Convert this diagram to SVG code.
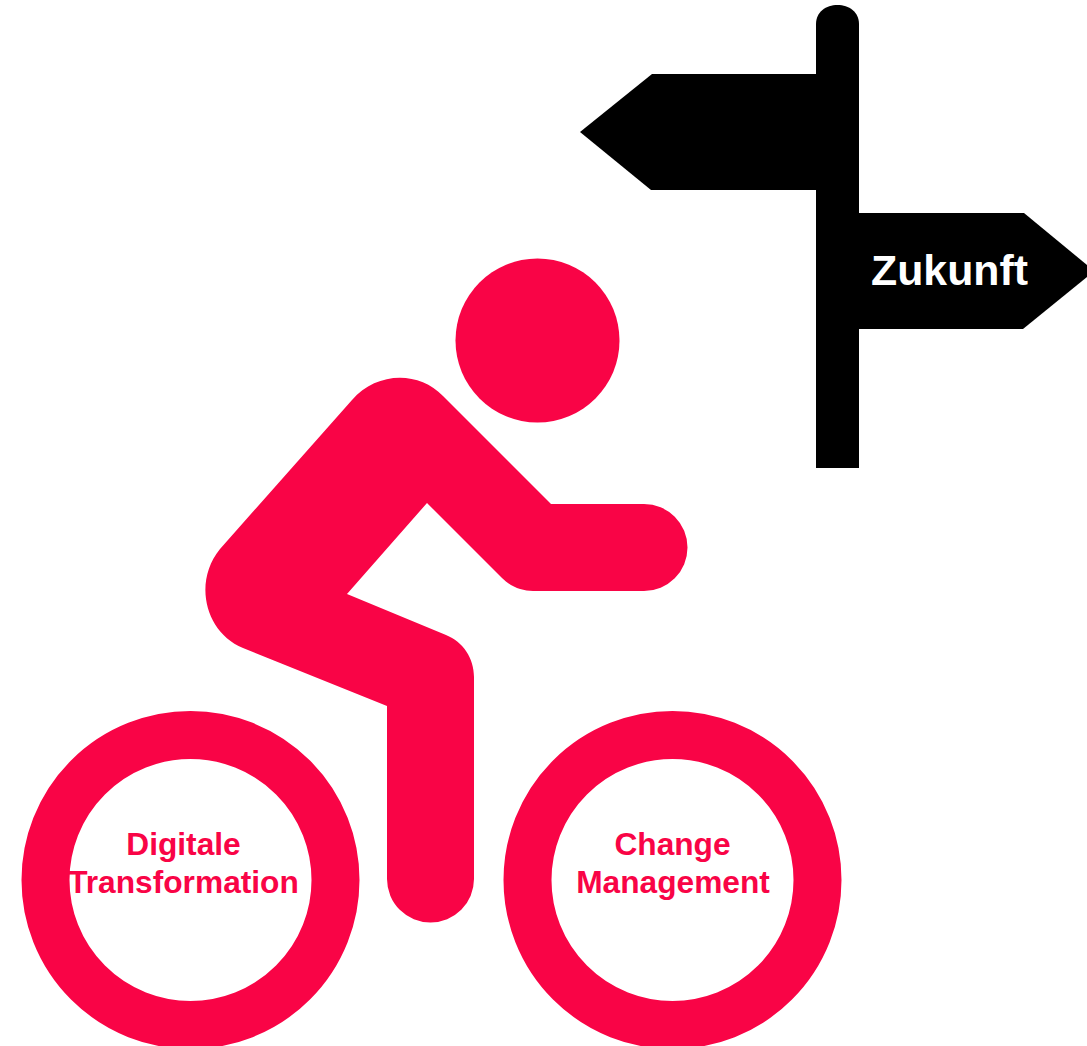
<svg xmlns="http://www.w3.org/2000/svg" width="1087" height="1046" viewBox="0 0 1087 1046">
<style>
.red{fill:#f90446}
.blk{fill:#000}
.ring{fill:none;stroke:#f90446;stroke-width:48}
text{font-family:"Liberation Sans",Arial,sans-serif;font-weight:700;text-anchor:middle}
.lbl{fill:#f90446;font-size:31.700px}
.wht{fill:#fff;font-size:42.800px}
</style>
<rect width="1087" height="1046" fill="#fff"/>
<g id="signpost">
<path class="blk" d="M816 468V24C816 12 826 5 837.500 5C849 5 859 12 859 24V468Z"/>
<path class="blk" d="M820 74H652L580 132L651 190H820Z"/>
<path class="blk" d="M855 213H1024L1087 265V277L1023 329H855Z"/>
<text class="wht" x="949.500" y="285">Zukunft</text>
</g>
<g id="rider">
<circle class="red" cx="537.500" cy="340.500" r="82"/>
<path class="red" d="M352 400C376 372 418 370 443 396L551 504H644A43.500 43.500 0 0 1 644 591H533C522 591 511 587 502 578L427 503L347 594L446 635C463 642 474 658 474 677V879A43.500 43.500 0 0 1 387 879V706L243 648C205 632 193 582 220 549Z"/>
</g>
<g id="wheel-left">
<circle class="ring" cx="190.500" cy="880" r="145"/>
<text class="lbl" x="183.500" y="855">Digitale</text>
<text class="lbl" x="183.500" y="893">Transformation</text>
</g>
<g id="wheel-right">
<circle class="ring" cx="672.500" cy="880" r="145"/>
<text class="lbl" x="672.500" y="855">Change</text>
<text class="lbl" x="673" y="893">Management</text>
</g>
<g id="connectors"/>
</svg>
